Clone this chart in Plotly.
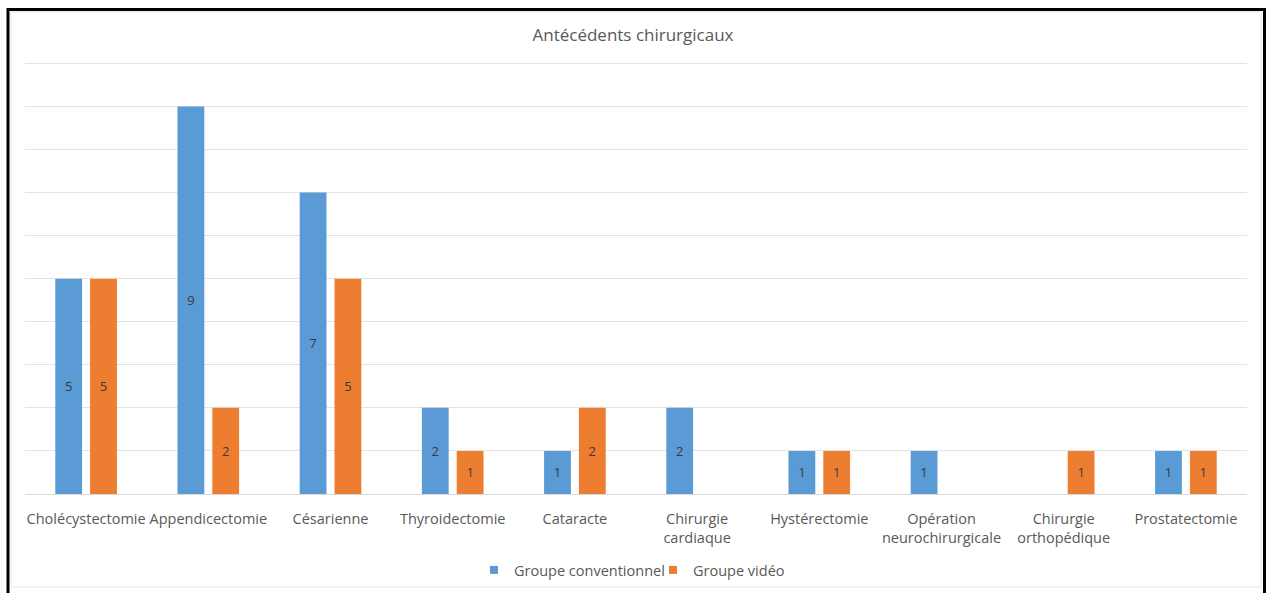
import plotly.graph_objects as go

# Surgical history counts per procedure, by group
categories = [
    "Cholécystectomie", "Appendicectomie", "Césarienne", "Thyroidectomie",
    "Cataracte", "Chirurgie<br>cardiaque", "Hystérectomie",
    "Opération<br>neurochirurgicale", "Chirurgie<br>orthopédique", "Prostatectomie",
]
conventionnel = [5, 9, 7, 2, 1, 2, 1, 1, 0, 1]
video = [5, 2, 5, 1, 2, 0, 1, 0, 1, 1]

series_names = ["Groupe conventionnel", "Groupe vidéo"]
series_colors = ["#5B9BD5", "#ED7D31"]

W, H = 1266, 593
L, R, T, B = 25, 19, 59, 99
plot_w, plot_h = W - L - R, H - T - B


def px_x(x):
    return (x - L) / plot_w


def px_y(y):
    return (H - B - y) / plot_h


fig = go.Figure()
for name, vals, color in zip(series_names, [conventionnel, video], series_colors):
    fig.add_trace(go.Bar(
        name=name,
        x=categories,
        y=vals,
        marker=dict(color=color, line=dict(width=0)),
        text=[str(v) if v else "" for v in vals],
        textposition="inside",
        insidetextanchor="middle",
        textangle=0,
        textfont=dict(family="Open Sans", size=13, color="#3a3a3a"),
        hoverinfo="x+y+name",
        showlegend=False,
    ))

# small square legend keys
for name, color in zip(series_names, series_colors):
    fig.add_trace(go.Scatter(
        name=name,
        x=[None], y=[None],
        mode="markers",
        marker=dict(symbol="square", size=8, color=color),
        showlegend=True,
    ))

fig.update_layout(
    width=W, height=H,
    margin=dict(l=L, r=R, t=T, b=B, autoexpand=False),
    paper_bgcolor="white",
    plot_bgcolor="white",
    barmode="group",
    bargap=0.43,
    bargroupgap=0.23,
    title=dict(
        text="Antécédents chirurgicaux",
        x=0.5, xanchor="center",
        y=1 - 35 / H, yanchor="middle",
        font=dict(family="Open Sans", size=17, color="#595959"),
    ),
    xaxis=dict(
        tickangle=0,
        tickfont=dict(family="Open Sans", size=14.5, color="#595959"),
        ticklabelstandoff=12,
        showgrid=False,
        showline=True, linecolor="#d9d9d9", linewidth=1,
        ticks="",
    ),
    yaxis=dict(
        range=[0, 10.1],
        tickvals=list(range(0, 11)),
        showticklabels=False,
        showgrid=True, gridcolor="#e3e3e3", gridwidth=1,
        zeroline=False,
        ticks="",
    ),
    legend=dict(
        orientation="h",
        xref="container", yref="container",
        x=474 / W, xanchor="left",
        y=1 - 570 / H, yanchor="middle",
        font=dict(family="Open Sans", size=14.5, color="#595959"),
        bgcolor="rgba(0,0,0,0)",
        itemwidth=30,
        entrywidth=134,
        traceorder="normal",
    ),
    showlegend=True,
    shapes=[
        # outer frame
        dict(type="rect", xref="paper", yref="paper",
             x0=px_x(8), x1=px_x(1264.5), y0=px_y(605), y1=px_y(9.5),
             line=dict(color="black", width=3), fillcolor="rgba(0,0,0,0)",
             layer="above"),
        # inner chart-area border
        dict(type="rect", xref="paper", yref="paper",
             x0=px_x(11), x1=px_x(1261), y0=px_y(587), y1=px_y(12),
             line=dict(color="#e8e8e8", width=1), fillcolor="rgba(0,0,0,0)",
             layer="below"),
    ],
)

fig.write_html("out.html")
